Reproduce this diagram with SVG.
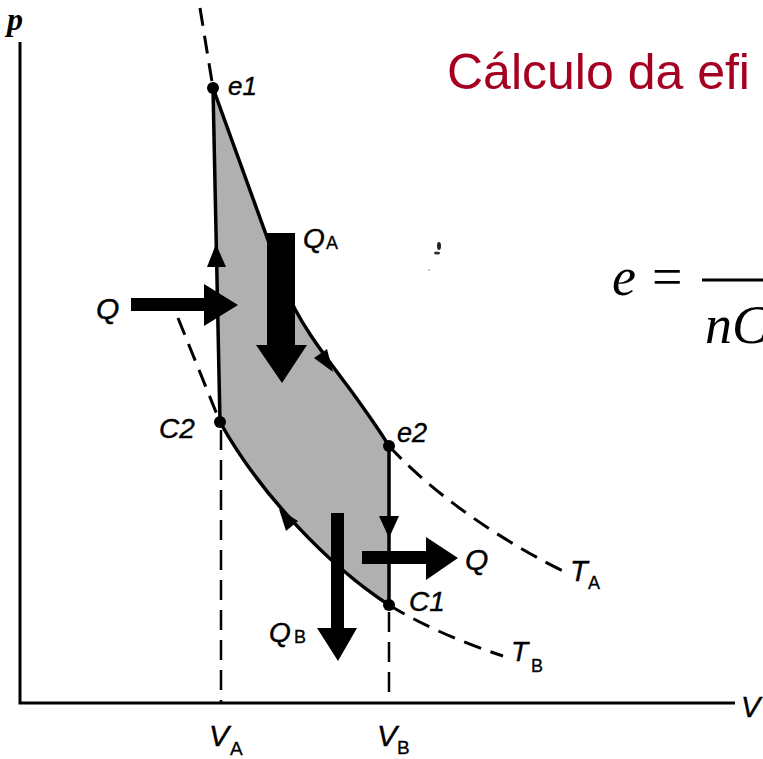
<svg xmlns="http://www.w3.org/2000/svg" width="763" height="759" viewBox="0 0 763 759">
<style>
.lbl{font-family:"Liberation Sans",Arial,sans-serif;font-style:italic;fill:#000;stroke:#000;stroke-width:0.4}
.sub{font-family:"Liberation Sans",Arial,sans-serif;font-style:normal;fill:#000;stroke:#000;stroke-width:0.3}
.curve{fill:none;stroke:#000;stroke-width:3.5;stroke-linejoin:round}
.dash{fill:none;stroke:#000;stroke-width:3;stroke-dasharray:18 10}
.vdash{fill:none;stroke:#000;stroke-width:2.5;stroke-dasharray:20 10}
.big{fill:#000}
.dot{fill:#000}
.math{font-family:"Liberation Serif","Times New Roman",serif;fill:#000}
</style>
<rect width="763" height="759" fill="#fff"/>

<g id="title">
<text x="447" y="89" font-family="Liberation Sans, Arial, sans-serif" font-size="50" fill="#a50021">Cálculo da efi</text>
</g>

<g id="equation">
<text class="math" x="612" y="295" font-size="54" font-style="italic">e</text>
<text class="math" x="652" y="295" font-size="54">=</text>
<line x1="702" y1="280" x2="763" y2="280" stroke="#000" stroke-width="3"/>
<text class="math" x="705" y="343" font-size="54" font-style="italic">nC</text>
</g>

<g id="axes">
<path d="M20,42 L20,703 L735,703" fill="none" stroke="#000" stroke-width="3"/>
<text x="7" y="30" font-family="Liberation Serif, serif" font-weight="bold" font-style="italic" font-size="32">p</text>
<text class="lbl" x="741" y="717" font-size="29">V</text>
</g>

<g id="cycle-area">
<path d="M213,88 L285,287 C298,322 325,356 352,392 C365,410 378,428 389,446 L389,605 C329,566 260,494 220,422 Z" fill="#b0b0b0"/>
</g>

<g id="connectors">
<path class="dash" d="M200,8 L213,88"/>
<path class="curve" d="M213,88 L285,287 C298,322 325,356 352,392 C365,410 378,428 389,446"/>
<path class="dash" d="M389,446 C420,480 480,530 565,572"/>
<path class="dash" d="M178,318 L220,422"/>
<path class="curve" d="M220,422 C260,494 329,566 389,605"/>
<path class="dash" d="M389,605 C420,624 460,642 503,656"/>
<path class="curve" d="M213,88 L220,422" stroke-width="3"/>
<path class="curve" d="M389,446 L389,605" stroke-width="3"/>
<path class="vdash" d="M221,430 L221,703"/>
<path class="vdash" d="M389,612 L389,703"/>
<polygon class="big" points="216,244 207,267 226,267"/>
<polygon class="big" points="389,538 379,516 399,516"/>
<polygon class="big" points="333,372 327,349 314,358"/>
<polygon class="big" points="279,509 298,521 286,531"/>
</g>

<g id="heat-arrows">
<path class="big" d="M131,298 L204,298 L204,284 L238,305 L204,326 L204,311 L131,311 Z"/>
<path class="big" d="M267,233 L295,233 L295,345 L307,345 L282,383 L256,345 L267,345 Z"/>
<path class="big" d="M331,513 L344,513 L344,628 L357,628 L338,661 L317,628 L331,628 Z"/>
<path class="big" d="M362,551 L426,551 L426,537 L458,558 L426,580 L426,564 L362,564 Z"/>
</g>

<g id="e1"><circle class="dot" cx="213" cy="88" r="6"/><text class="lbl" x="228" y="95" font-size="26">e1</text></g>
<g id="C2"><circle class="dot" cx="220" cy="422" r="6"/><text class="lbl" x="159" y="438" font-size="28">C2</text></g>
<g id="e2"><circle class="dot" cx="389" cy="446" r="6"/><text class="lbl" x="397" y="442" font-size="27">e2</text></g>
<g id="C1"><circle class="dot" cx="389" cy="605" r="6"/><text class="lbl" x="409" y="611" font-size="28">C1</text></g>

<g id="labels">
<text class="lbl" x="96" y="319" font-size="30">Q</text>
<text class="lbl" x="465" y="570" font-size="30">Q</text>
<text class="lbl" x="303" y="248" font-size="28">Q</text><text class="sub" x="326" y="249" font-size="18">A</text>
<text class="lbl" x="269" y="642" font-size="28">Q</text><text class="sub" x="294" y="643" font-size="18">B</text>
<text class="lbl" x="570" y="581" font-size="29">T</text><text class="sub" x="588" y="589" font-size="18">A</text>
<text class="lbl" x="511" y="661" font-size="28">T</text><text class="sub" x="531" y="672" font-size="18">B</text>
<text class="lbl" x="209" y="746" font-size="30">V</text><text class="sub" x="230" y="755" font-size="19">A</text>
<text class="lbl" x="377" y="746" font-size="30">V</text><text class="sub" x="397" y="754" font-size="19">B</text>
</g>

<g id="speck">
<ellipse cx="439" cy="246" rx="2" ry="4" fill="#222"/>
<ellipse cx="437" cy="253" rx="3" ry="1.5" fill="#333"/>
<circle cx="429" cy="270" r="1" fill="#bbb"/>
</g>
</svg>
